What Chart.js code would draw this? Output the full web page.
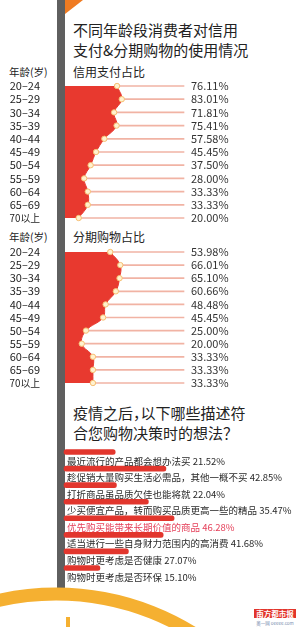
<!DOCTYPE html>
<html>
<head>
<meta charset="utf-8">
<script src="https://cdn.jsdelivr.net/npm/chart.js@4.4.1/dist/chart.umd.min.js"></script>
<style>
  body {
    margin: 0;
    width: 297px;
    height: 627px;
    overflow: hidden;
    background: #fff;
    position: relative;
    font-family: "Noto Sans CJK SC", sans-serif;
    color: #222;
  }
  .abs { position: absolute; white-space: nowrap; }
  .title { left: 73px; font-size: 15px; line-height: 20px; font-feature-settings: "halt"; }
  .sub { left: 73px; font-size: 12px; line-height: 14px; }
  .ageHead { left: 9px; font-size: 10.5px; line-height: 12px; }
  canvas { position: absolute; left: 0; }
</style>
</head>
<body>
<svg class="abs" style="left:0;top:0" width="297" height="627">
  <rect x="57" y="0" width="8" height="591" fill="#5f5f5f"/>
  <polygon points="65,0 83,0 65,14" fill="#ef7b22"/>
  <circle cx="56" cy="854" r="260" fill="none" stroke="#f5b031" stroke-width="13"/>
  <rect x="66" y="617" width="4" height="10" fill="#f5b031"/>
  <rect x="254" y="609" width="42" height="9" fill="#e2352b"/>
  <text x="275" y="616.5" font-size="7.5" fill="#fff" text-anchor="middle" font-weight="bold" font-family="Noto Sans CJK SC">南方都市报</text>
  <text x="275" y="624.5" font-size="4.5" fill="#7a8db0" text-anchor="middle" font-family="Noto Sans CJK SC">奥一网 oeeee.com</text>
</svg>

<div class="abs title" style="top:20px">不同年龄段消费者对信用</div>
<div class="abs title" style="top:40px">支付&amp;分期购物的使用情况</div>
<div class="abs ageHead" style="top:66px">年龄(岁)</div>
<div class="abs sub" style="top:65px">信用支付占比</div>
<canvas id="credit" width="297" height="148" style="top:78px"></canvas>

<div class="abs ageHead" style="top:231px">年龄(岁)</div>
<div class="abs sub" style="top:230px">分期购物占比</div>
<canvas id="install" width="297" height="147" style="top:244px"></canvas>

<div class="abs title" style="top:403px">疫情之后，以下哪些描述符</div>
<div class="abs title" style="top:423px">合您购物决策时的想法？</div>
<canvas id="attitude" width="297" height="145" style="top:445px"></canvas>

<script>
// data
const ageGroups = ["20–24", "25–29", "30–34", "35–39", "40–44", "45–49", "50–54", "55–59", "60–64", "65–69", "70以上"];
const creditPayShare = [76.11, 83.01, 71.81, 75.41, 57.58, 45.45, 37.5, 28.0, 33.33, 33.33, 20.0];
const installmentShare = [53.98, 66.01, 65.1, 60.66, 48.48, 45.45, 25.0, 20.0, 33.33, 33.33, 33.33];

const attitudeLabels = [
  "最近流行的产品都会想办法买",
  "趁促销大量购买生活必需品，其他一概不买",
  "打折商品虽品质欠佳也能将就",
  "少买便宜产品，转而购买品质更高一些的精品",
  "优先购买能带来长期价值的商品",
  "适当进行一些自身财力范围内的高消费",
  "购物时更考虑是否健康",
  "购物时更考虑是否环保"
];
const attitudeShare = [21.52, 42.85, 22.04, 35.47, 46.28, 41.68, 27.07, 15.1];

const RED = "#e8392f";
const FONT = "'Noto Sans CJK SC', sans-serif";

// percentage text to the right of the leader lines
const valueLabels = {
  id: "valueLabels",
  afterDatasetsDraw(chart) {
    const { ctx, chartArea } = chart;
    const meta = chart.getDatasetMeta(0);
    const values = chart.data.datasets[0].data;
    ctx.save();
    ctx.font = "11px " + FONT;
    ctx.fillStyle = "#333";
    ctx.textBaseline = "middle";
    meta.data.forEach((pt, i) => {
      ctx.fillText(values[i].toFixed(2) + "%", chartArea.right + 7, pt.y);
    });
    ctx.restore();
  }
};

function makeAgeChart(id, values, maxX) {
  new Chart(document.getElementById(id), {
    type: "line",
    data: {
      labels: ageGroups,
      datasets: [
        {
          data: values,
          borderColor: RED,
          borderWidth: 1,
          backgroundColor: RED,
          fill: "origin",
          tension: 0.4,
          pointRadius: 2.7,
          pointBackgroundColor: "#fff2cf",
          pointBorderColor: "#f6be73",
          pointBorderWidth: 1,
          order: 1
        },
        {
          type: "bar",
          data: values.map((v) => [v, maxX]), // leader line from point to the label
          backgroundColor: "#f1b3a4",
          barThickness: 1,
          clip: false,
          order: 2
        }
      ]
    },
    options: {
      indexAxis: "y",
      responsive: false,
      animation: false,
      layout: { autoPadding: false, padding: { top: 8, bottom: 8, left: 0, right: 113 } },
      scales: {
        x: { type: "linear", min: 0, max: maxX, display: false },
        y: {
          type: "category",
          offset: false,
          grid: { display: false },
          border: { display: false },
          ticks: {
            autoSkip: false,
            padding: 17,
            color: "#222",
            // the CJK label is set a bit smaller so it lines up with the others
            font: (c) => ({ size: c.index === ageGroups.length - 1 ? 9.8 : 11, family: FONT })
          },
          afterFit: (scale) => {
            scale.width = 65;
            scale.paddingTop = 0;
            scale.paddingBottom = 0;
          }
        }
      },
      plugins: { legend: { display: false }, tooltip: { enabled: false } }
    },
    plugins: [valueLabels]
  });
}

makeAgeChart("credit", creditPayShare, 174);
makeAgeChart("install", installmentShare, 142);

// question text under each bar
const barCaptions = {
  id: "barCaptions",
  afterDatasetsDraw(chart) {
    const { ctx } = chart;
    const meta = chart.getDatasetMeta(0);
    ctx.save();
    ctx.font = "9.5px " + FONT;
    ctx.textBaseline = "middle";
    meta.data.forEach((bar, i) => {
      ctx.fillStyle = i === 4 ? "#e5405a" : "#2a2a2a";
      const txt = attitudeLabels[i] + " " + attitudeShare[i].toFixed(2) + "%";
      ctx.fillText(txt, 67, bar.y + 9);
    });
    ctx.restore();
  }
};

new Chart(document.getElementById("attitude"), {
  type: "bar",
  data: {
    labels: attitudeLabels,
    datasets: [
      {
        data: attitudeShare,
        backgroundColor: "#e2362d",
        barThickness: 5,
        borderRadius: 3,
        borderSkipped: false,
        clip: false
      }
    ]
  },
  options: {
    indexAxis: "y",
    responsive: false,
    animation: false,
    layout: { autoPadding: false, padding: { top: 7, bottom: 22, left: 64, right: 7 } },
    scales: {
      x: { min: 0, max: 95, display: false },
      y: { offset: false, display: false }
    },
    plugins: { legend: { display: false }, tooltip: { enabled: false } }
  },
  plugins: [barCaptions]
});
</script>
</body>
</html>
